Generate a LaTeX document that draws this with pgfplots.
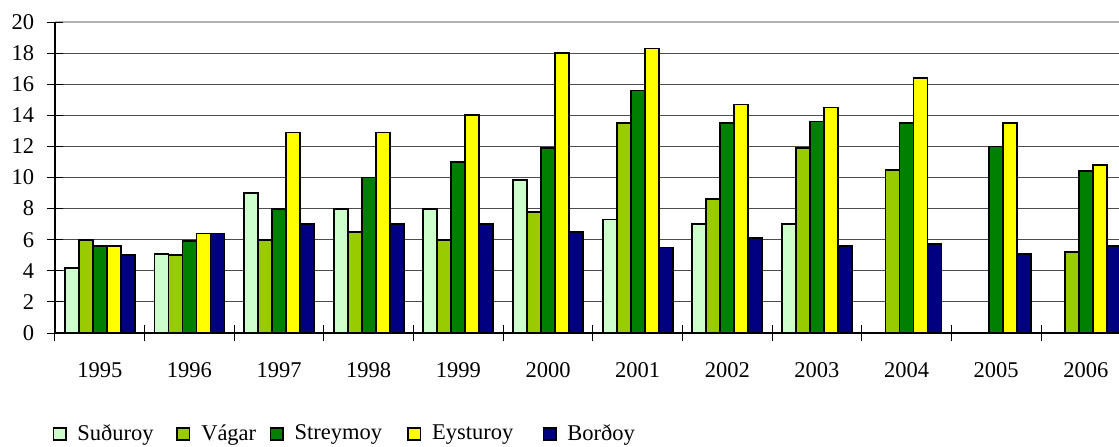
\documentclass[border=0pt]{standalone}
\usepackage{fontspec}
\setmainfont{Liberation Serif}
\usepackage{pgfplots}
\pgfplotsset{compat=1.18}
\definecolor{cS}{HTML}{CCFFCC}
\definecolor{cV}{HTML}{99CC00}
\definecolor{cSt}{HTML}{008000}
\definecolor{cE}{HTML}{FFFF00}
\definecolor{cB}{HTML}{000080}
\pgfplotsset{sqlegend/.style={legend image code/.code={%
  \draw[##1, line width=0.8pt] (0pt,-3.075pt) rectangle (6.15pt,3.075pt);
  \path[draw=none, fill=none] (0pt,0pt) -- (12pt,0pt);}}}
\begin{document}
\fontsize{11.25}{13.5}\selectfont
\begin{tikzpicture}
\begin{axis}[
  scale only axis, width=532pt, height=155.5pt,
  ybar=0pt, bar width=0.1562,
  xmin=-0.5, xmax=11.37, ymin=0, ymax=20,
  axis lines=left, axis line style={-, black, line width=0.8pt},
  ytick={0,2,...,18}, extra y ticks={20},
  extra y tick style={grid style={gray!60, line width=0.8pt}},
  ymajorgrids, grid style={black!70, line width=0.5pt},
  tick align=center, major tick length=8pt, tick style={black, line width=0.5pt},
  yticklabel style={xshift=-2.5pt},
  xtick={-0.5,0.5,1.5,2.5,3.5,4.5,5.5,6.5,7.5,8.5,9.5,10.5}, xticklabels={},
  extra x ticks={0,1,2,3,4,5,6,7,8,9,10,11},
  extra x tick labels={1995,1996,1997,1998,1999,2000,2001,2002,2003,2004,2005,2006},
  extra x tick style={major tick length=0pt, xticklabel style={yshift=-10.75pt}},
  /pgf/number format/assume math mode=true,
  tick label style={font=\fontsize{11.25}{13.5}\selectfont},
  legend columns=5,
  legend style={draw=none, fill=none, at={(axis description cs:-0.0022,-0.3248)}, anchor=west,
    inner sep=0pt, outer sep=0pt, nodes={inner sep=0pt}, column sep=0pt,
    font=\fontsize{11.25}{13.5}\selectfont},
]
\addplot[fill=cS, draw=black, line width=0.9pt, sqlegend] coordinates {(0,4.2) (1,5.1) (2,9.0) (3,8.0) (4,8.0) (5,9.85) (6,7.3) (7,7.0) (8,7.0)};
\addlegendentry{\makebox[49.5pt][l]{Suðuroy}}
\addplot[fill=cV, draw=black, line width=0.9pt, sqlegend] coordinates {(0,6.0) (1,5.0) (2,6.0) (3,6.5) (4,6.0) (5,7.8) (6,13.5) (7,8.6) (8,11.9) (9,10.5) (11,5.2)};
\addlegendentry{\makebox[34.3pt][l]{Vágar}}
\addplot[fill=cSt, draw=black, line width=0.9pt, sqlegend] coordinates {(0,5.6) (1,5.9) (2,8.0) (3,10.0) (4,11.0) (5,11.9) (6,15.6) (7,13.5) (8,13.6) (9,13.5) (10,12.0) (11,10.4)};
\addlegendentry{\makebox[56.3pt][l]{Streymoy}}
\addplot[fill=cE, draw=black, line width=0.9pt, sqlegend] coordinates {(0,5.6) (1,6.4) (2,12.9) (3,12.9) (4,14.0) (5,18.0) (6,18.3) (7,14.7) (8,14.5) (9,16.4) (10,13.5) (11,10.8)};
\addlegendentry{\makebox[55.3pt][l]{Eysturoy}}
\addplot[fill=cB, draw=black, line width=0.9pt, sqlegend] coordinates {(0,5.0) (1,6.4) (2,7.0) (3,7.0) (4,7.0) (5,6.5) (6,5.5) (7,6.1) (8,5.6) (9,5.7) (10,5.1) (11,5.6)};
\addlegendentry{Borðoy}
\end{axis}
\pgfresetboundingbox
\useasboundingbox (-27.5pt,-56.5pt) rectangle (532pt,166.5pt);
\end{tikzpicture}
\end{document}
